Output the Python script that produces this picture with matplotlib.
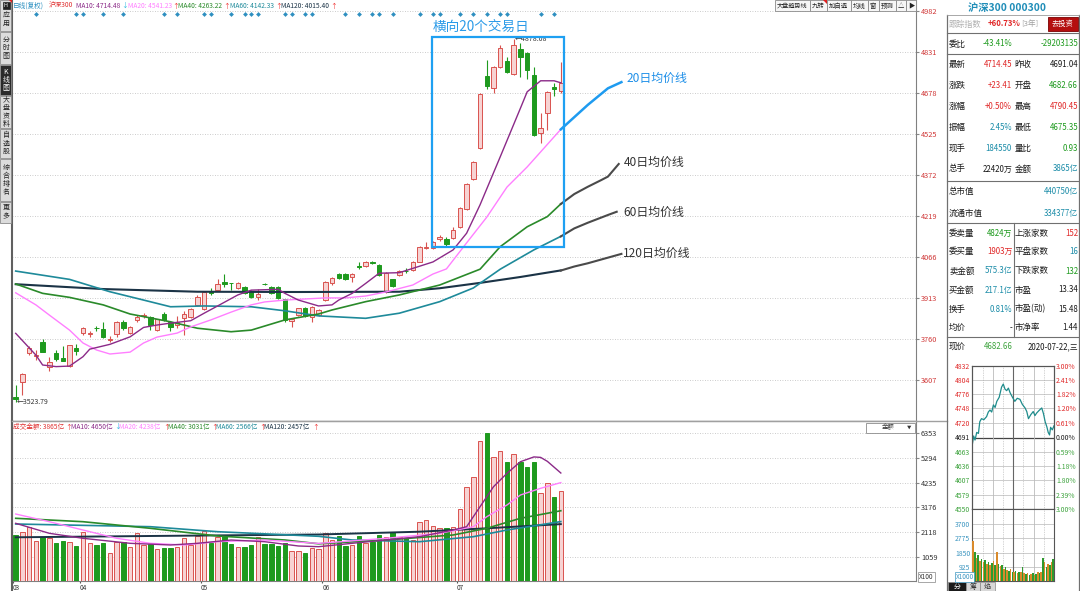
import numpy as np
import matplotlib.pyplot as plt
from matplotlib.patches import Rectangle, Polygon
from matplotlib.transforms import blended_transform_factory

plt.rcParams['font.family'] = ['Noto Sans CJK SC', 'DejaVu Sans']
plt.rcParams['axes.unicode_minus'] = False

# ---------------- 沪深300 日K 2020-03 ~ 2020-07-22 (从截图读出的近似值) ----------------
opens = [3544, 3600, 3708, 3696, 3750, 3657, 3709, 3688, 3659, 3725,
         3783, 3780, 3802, 3796, 3757, 3778, 3824, 3781, 3831, 3847,
         3841, 3793, 3853, 3824, 3812, 3837, 3841, 3887, 3871, 3940,
         3942, 3973, 3969, 3949, 3955, 3940, 3917, 3966, 3955, 3952,
         3908, 3827, 3849, 3874, 3841, 3849, 3905, 3967, 4002, 4001,
         3992, 4031, 4032, 4048, 4036, 3936, 3982, 3998, 4015, 4017,
         4048, 4100, 4098, 4131, 4131, 4135, 4176, 4243, 4355, 4470,
         4740, 4694, 4772, 4797, 4746, 4839, 4824, 4744, 4526, 4601,
         4697, 4682.66]
closes = [3536, 3629, 3726, 3699, 3713, 3675, 3684, 3679, 3736, 3716,
          3800, 3782, 3800, 3768, 3759, 3824, 3800, 3804, 3841, 3851,
          3812, 3833, 3831, 3804, 3824, 3853, 3871, 3915, 3936, 3930,
          3965, 3965, 3967, 3970, 3932, 3917, 3928, 3964, 3930, 3912,
          3831, 3833, 3874, 3846, 3880, 3868, 3973, 3986, 3986, 3983,
          4002, 4029, 4048, 4042, 3998, 4007, 3957, 4014, 4013, 4046,
          4102, 4103, 4122, 4141, 4114, 4166, 4249, 4337, 4420, 4673,
          4703, 4774, 4843, 4756, 4855, 4810, 4762, 4520, 4545, 4681,
          4691.04, 4714.45]
highs = [3588, 3632, 3734, 3719, 3760, 3694, 3719, 3734, 3738, 3741,
         3805, 3791, 3808, 3824, 3772, 3826, 3830, 3808, 3849, 3858,
         3845, 3836, 3862, 3828, 3846, 3865, 3874, 3924, 3940, 3950,
         3982, 4002, 3970, 3972, 3958, 3942, 3946, 3970, 3958, 3956,
         3910, 3835, 3877, 3878, 3883, 3871, 3976, 3992, 4006, 4005,
         4005, 4048, 4051, 4052, 4040, 4010, 3985, 4017, 4024, 4049,
         4105, 4122, 4125, 4147, 4141, 4176, 4252, 4340, 4424, 4676,
         4799, 4777, 4855, 4812, 4878.08, 4862, 4830, 4772, 4603, 4684,
         4713, 4790.45]
lows = [3523.79, 3551, 3700, 3682, 3711, 3642, 3679, 3677, 3657, 3700,
        3775, 3768, 3790, 3765, 3750, 3768, 3793, 3778, 3824, 3837,
        3793, 3790, 3828, 3791, 3800, 3775, 3838, 3884, 3868, 3924,
        3940, 3955, 3942, 3946, 3929, 3914, 3905, 3960, 3927, 3909,
        3822, 3804, 3846, 3843, 3824, 3846, 3902, 3961, 3982, 3980,
        3973, 4020, 4029, 4039, 3995, 3933, 3954, 3995, 4005, 4014,
        4045, 4094, 4095, 4126, 4104, 4132, 4173, 4240, 4352, 4467,
        4690, 4675, 4768, 4750, 4742, 4737, 4728, 4517, 4489, 4539,
        4665, 4675.35]
# 成交金额(亿)
amount = [1990, 2107, 2322, 1733, 1892, 1849, 1634, 1733, 1703, 1518,
          2107, 1634, 1561, 1634, 1230, 1703, 1703, 1488, 2064, 1548,
          1604, 1376, 1445, 1419, 1462, 1875, 1548, 1948, 2163, 1634,
          1892, 1978, 1591, 1462, 1462, 1561, 1892, 1604, 1591, 1518,
          1634, 1303, 1303, 1230, 1419, 1376, 2092, 1776, 1948, 1518,
          1561, 1948, 1634, 1703, 1991, 1892, 2133, 1892, 1849, 1776,
          2563, 2636, 2378, 2279, 2279, 2322, 3096, 4042, 4472, 6003,
          6350, 5358, 5573, 5143, 5474, 5143, 4902, 5143, 3784, 4214,
          3612, 3865]

# 均线 (读图取样点: K线序号, 数值)
ma10_x = [0, 3, 4, 6, 8, 10, 11, 14, 17, 19, 21, 23, 26, 28, 30, 33, 35, 39, 40, 42,
          45, 47, 48, 50, 52, 54, 57, 59, 62, 65, 67, 69, 72, 75, 76, 78, 80, 81]
ma10 = [3781, 3700, 3663, 3657, 3659, 3694, 3722, 3740, 3768, 3803, 3812, 3819, 3828, 3856,
        3883, 3924, 3942, 3945, 3930, 3905, 3883, 3887, 3905, 3930, 3967, 4005, 4007, 4023,
        4047, 4092, 4154, 4260, 4439, 4620, 4681, 4722, 4722, 4714.48]
ma20_x = [0, 3, 5, 8, 10, 12, 14, 17, 19, 21, 24, 26, 29, 32, 35, 37, 40, 43, 46, 49,
          52, 55, 59, 62, 64, 67, 70, 73, 76, 79, 81]
ma20 = [3932, 3887, 3849, 3793, 3745, 3719, 3704, 3711, 3745, 3767, 3782, 3805, 3831, 3860,
        3887, 3898, 3905, 3909, 3913, 3913, 3920, 3935, 3961, 4002, 4021, 4118, 4214, 4326,
        4401, 4485, 4541.23]
ma40_x = [0, 4, 8, 13, 17, 23, 27, 32, 35, 40, 45, 47, 52, 57, 63, 69, 72, 76, 79, 81]
ma40 = [3965, 3930, 3915, 3887, 3853, 3824, 3800, 3787, 3793, 3831, 3853, 3868, 3899, 3924,
        3961, 4020, 4104, 4178, 4216, 4263.22]
ma60_x = [0, 8, 14, 19, 23, 28, 35, 40, 45, 52, 57, 63, 68, 72, 77, 81]
ma60 = [4013, 3982, 3936, 3905, 3880, 3883, 3880, 3865, 3846, 3837, 3856, 3899, 3950, 4020,
        4092, 4142.33]
ma120_x = [0, 13, 27, 42, 57, 63, 69, 75, 81]
ma120 = [3964, 3946, 3936, 3935, 3936, 3949, 3969, 3991, 4015.40]

# 手绘的均线延长线
ext20_x, ext20 = [81, 85, 88, 90], [4541, 4632, 4694, 4717]
ext40_x, ext40 = [81, 83, 85, 87, 88, 89.6], [4263, 4300, 4327, 4352, 4365, 4412]
ext60_x, ext60 = [81, 83, 85, 88, 89.3], [4142, 4172, 4193, 4222, 4234]
ext120_x, ext120 = [81, 83, 85, 88, 90], [4015, 4030, 4042, 4063, 4077]

# 成交金额均线
vma10_x = [0, 5, 10, 17, 23, 27, 32, 37, 42, 45, 50, 55, 60, 65, 67, 69, 71, 73, 75, 77, 78, 79, 81]
vma10 = [2492, 2063, 1849, 1634, 1562, 1634, 1776, 1703, 1519, 1489, 1634, 1776, 1918, 2205,
         2347, 3205, 4063, 4637, 5135, 5340, 5320, 5150, 4650]
vma20_x = [0, 5, 10, 15, 20, 25, 30, 37, 45, 55, 63, 68, 70, 73, 75, 78, 81]
vma20 = [2891, 2561, 2205, 1849, 1634, 1562, 1703, 1776, 1630, 1849, 2063, 2347, 2776, 3278,
         3707, 3994, 4238]
vma40_x = [0, 10, 20, 30, 40, 45, 55, 65, 70, 75, 81]
vma40 = [2707, 2561, 2278, 1948, 1776, 1613, 1776, 1991, 2278, 2707, 3031]
vma60_x = [0, 20, 30, 45, 50, 60, 68, 73, 81]
vma60 = [2462, 2347, 2132, 1935, 1776, 1703, 1918, 2205, 2566]
vma120_x = [0, 20, 45, 60, 70, 81]
vma120 = [1892, 1948, 2012, 2132, 2278, 2457]

price_levels = [3607, 3760, 3913, 4066, 4219, 4372, 4525, 4678, 4831, 4982]
amount_levels = [1059, 2118, 3176, 4235, 5294, 6353]
month_pos = [0, 10, 28, 46, 66]
month_labels = ['03', '04', '05', '06', '07']
mine_idx = [3, 9, 10, 13, 16, 22, 24, 28, 29, 32, 34, 35, 36, 40, 41, 43, 44, 49, 51,
            53, 54, 56, 60, 62, 63, 66, 68, 70, 72, 73, 78, 80]

# 分时 (2020-07-22)
it_t = [0, 4, 8, 13, 18, 22, 27, 34, 42, 47, 52, 57, 62, 67, 72, 79, 86, 91, 96, 101, 106,
        111, 118, 125, 132, 140, 147, 155, 160, 165, 172, 179, 184, 189, 196, 204, 209, 214,
        219, 223, 227, 230, 235, 240]
it_p = [4677, 4694, 4686, 4701, 4699, 4722, 4728, 4726, 4732, 4741, 4745, 4741, 4755, 4750,
        4762, 4770, 4790, 4796, 4786, 4783, 4788, 4779, 4770, 4762, 4768, 4766, 4756, 4749,
        4742, 4728, 4736, 4742, 4734, 4739, 4744, 4749, 4738, 4722, 4712, 4701, 4696, 4711,
        4706, 4714]
it_levels = [4550, 4579, 4607, 4636, 4663, 4691, 4720, 4748, 4776, 4804, 4832]
it_pct = ['3.00%', '2.39%', '1.80%', '1.18%', '0.59%', '0.00%', '0.61%', '1.20%', '1.82%',
          '2.41%', '3.00%']
itv = [2600, 1900, 1500, 1700, 1300, 1400, 1200, 1350, 1100, 1250, 1000, 1150, 1300, 1050,
       1900, 1100, 950, 1000, 800, 900, 700, 650, 750, 600, 550, 650, 500, 550, 600, 900,
       500, 450, 500, 400, 450, 500, 400, 450, 550, 500, 600, 1500, 1200, 900, 1100, 1000,
       1200, 1400]
itv_levels = [925, 1850, 2775, 3700]

# 右侧盘口
names1 = ['最新', '涨跌', '涨幅', '振幅', '现手', '总手']
vals1 = ['4714.45', '+23.41', '+0.50%', '2.45%', '184550', '22420万']
names2 = ['昨收', '开盘', '最高', '最低', '量比', '金额']
vals2 = ['4691.04', '4682.66', '4790.45', '4675.35', '0.93', '3865亿']
names3 = ['委卖量', '委买量', '卖金额', '买金额', '换手', '均价']
vals3 = ['4824万', '1903万', '575.3亿', '217.1亿', '0.81%', '-']
names4 = ['上涨家数', '平盘家数', '下跌家数', '市盈', '市盈(动)', '市净率']
vals4 = ['152', '16', '132', '13.34', '15.48', '1.44']

# ---------------- 样式 ----------------
RED, GRN, TEAL, BLK = '#E02828', '#1E9A1E', '#1B8CA8', '#1A1A1A'
UP_E, UP_F = '#D9534F', '#F7D3D3'
C10, C20, C40, C60, C120 = '#8B2A88', '#FF7FFF', '#2A8A2A', '#1E8A9A', '#1B3346'
W, H = 1080, 591
X0, DX = 15.7, 6.73           # 第一根K线的像素位置, K线间距
PY0, PK = 5023, 3.726         # 价格轴: y像素0处的价格, 每像素价格
VK = 42.9                     # 成交额轴: 每像素金额

fig = plt.figure(figsize=(W / 100, H / 100), dpi=100)


def box(x0, y0, x1, y1):
    return fig.add_axes([x0 / W, 1 - y1 / H, (x1 - x0) / W, (y1 - y0) / H])


def px2idx(px):
    return (px - X0) / DX


o, c = np.array(opens), np.array(closes)
xi = np.arange(len(c))
up = c >= o
face = np.where(up, UP_F, GRN)
edge = np.where(up, UP_E, GRN)

# ---------------- 主图 K线 ----------------
ax = box(12, 0, 916, 421)
ax.set_xlim(px2idx(12), px2idx(916))
ax.set_ylim(PY0 - PK * 421, PY0)
ax.vlines(xi, lows, highs, colors=edge, lw=0.8, zorder=2)
ax.bar(xi, np.maximum(np.abs(c - o), 1.5), bottom=np.minimum(o, c), width=0.66,
       color=face, edgecolor=edge, linewidth=0.7, zorder=3)
ax.plot(ma120_x, ma120, color=C120, lw=1.5, zorder=4)
ax.plot(ma60_x, ma60, color=C60, lw=1.2, zorder=4)
ax.plot(ma40_x, ma40, color=C40, lw=1.2, zorder=4)
ax.plot(ma20_x, ma20, color=C20, lw=1.0, zorder=4)
ax.plot(ma10_x, ma10, color=C10, lw=1.0, zorder=4)

ax.plot(ext20_x, ext20, color='#1E9BF0', lw=1.8, zorder=5)
for ex, ey in [(ext40_x, ext40), (ext60_x, ext60), (ext120_x, ext120)]:
    ax.plot(ex, ey, color='#4A4A4A', lw=1.5, zorder=5)
ax.text(90.7, 4732, '20日均价线', color='#1E8FE8', fontsize=8.6, va='center')
ax.text(90.3, 4419, '40日均价线', color='#333333', fontsize=8.6, va='center')
ax.text(90.3, 4233, '60日均价线', color='#333333', fontsize=8.6, va='center')
ax.text(90.2, 4080, '120日均价线', color='#333333', fontsize=8.6, va='center')

ax.add_patch(Rectangle((61.9, 4103), 81.45 - 61.9, 4885 - 4103, fill=False,
                       ec='#1EA0F2', lw=1.6, zorder=6))
ax.text(62.0, 4922, '横向20个交易日', color='#2C9BE8', fontsize=9.8, va='center')

ax.text(0.15, lows[0], '←' + f'{lows[0]:.2f}', fontsize=5, color='#333', va='center')
i_hi = int(np.argmax(highs))
ax.text(i_hi + 0.15, highs[i_hi], '←' + f'{highs[i_hi]:.2f}', fontsize=5, color='#333',
        va='center')

tr = blended_transform_factory(ax.transData, ax.transAxes)
ax.scatter(mine_idx, [1 - 14 / 421] * len(mine_idx), transform=tr, marker='D', s=6,
           color='#2E8FC0', zorder=6, linewidths=0)

ax.set_yticks(price_levels)
ax.yaxis.tick_right()
ax.tick_params(axis='y', labelsize=5.3, labelcolor='#D03838', length=2, color='#888',
               pad=1.5)
ax.set_xticks([])
ax.grid(axis='y', ls=(0, (1, 2)), color='#BBBBBB', lw=0.6)
ax.spines['top'].set_visible(False)
ax.spines['left'].set_color('#606060')
ax.spines['left'].set_linewidth(1.5)
ax.spines['right'].set_color('#808080')
ax.spines['right'].set_linewidth(0.8)
ax.spines['bottom'].set_color('#A0A0A0')
ax.spines['bottom'].set_linewidth(1.0)

# ---------------- 成交金额 ----------------
vx = box(12, 421, 916, 581.4)
vx.set_xlim(px2idx(12), px2idx(916))
vx.set_ylim(0, VK * (581.4 - 421))
vx.bar(xi, amount, width=0.66, color=face, edgecolor=edge, linewidth=0.7, zorder=3)
vx.plot(vma120_x, vma120, color=C120, lw=1.4, zorder=4)
vx.plot(vma60_x, vma60, color=C60, lw=1.2, zorder=4)
vx.plot(vma40_x, vma40, color=C40, lw=1.2, zorder=4)
vx.plot(vma20_x, vma20, color=C20, lw=1.0, zorder=4)
vx.plot(vma10_x, vma10, color=C10, lw=1.0, zorder=4)
vx.set_yticks(amount_levels)
vx.yaxis.tick_right()
vx.tick_params(axis='y', labelsize=5.3, labelcolor='#333', length=2, color='#888', pad=1.5)
vx.set_xticks(np.array(month_pos) - 0.45)
vx.set_xticklabels(month_labels)
for lab in vx.get_xticklabels():
    lab.set_ha('left')
vx.tick_params(axis='x', labelsize=4.6, labelcolor='#333', length=1.5, color='#555', pad=0.2)
vx.grid(axis='y', ls=(0, (1, 2)), color='#BBBBBB', lw=0.6)
vx.spines['top'].set_color('#A0A0A0')
vx.spines['left'].set_color('#606060')
vx.spines['left'].set_linewidth(1.5)
vx.spines['right'].set_color('#808080')
vx.spines['right'].set_linewidth(0.8)
vx.spines['bottom'].set_color('#808080')

# ---------------- 分时小图 ----------------
ia = box(972.3, 365.7, 1054, 509.3)
ia.set_xlim(0, 240)
ia.set_ylim(it_levels[0], it_levels[-1])
for v in it_levels:
    ia.axhline(v, color='#444' if v == 4691 else '#C4C4C4', lw=0.9 if v == 4691 else 0.6)
for t in [30, 90, 150, 210]:
    ia.axvline(t, color='#AAAAAA', lw=0.5, ls=(0, (1, 1.5)))
for t in [60, 180]:
    ia.axvline(t, color='#BBBBBB', lw=0.6)
ia.axvline(120, color='#666', lw=0.8)
ia.plot(it_t, it_p, color='#1F8C8C', lw=0.9)
ia.set_xticks([])
ia.set_yticks(it_levels)
ia.set_yticklabels([str(v) for v in it_levels])
ia.tick_params(axis='y', length=0, labelsize=4.9, pad=1.5)
for lab, v in zip(ia.get_yticklabels(), it_levels):
    lab.set_color(RED if v > 4691 else (BLK if v == 4691 else '#3DA33D'))
ir = ia.twinx()
ir.set_ylim(ia.get_ylim())
ir.set_yticks(it_levels)
ir.set_yticklabels(it_pct)
ir.tick_params(axis='y', length=0, labelsize=4.9, pad=1.5)
for lab, v in zip(ir.get_yticklabels(), it_levels):
    lab.set_color(RED if v > 4691 else (BLK if v == 4691 else '#3DA33D'))
for a in (ia, ir):
    for s in a.spines.values():
        s.set_color('#555')
        s.set_linewidth(0.8)

iv = box(972.3, 509.3, 1054, 580.7)
iv.set_xlim(0, 240)
iv.set_ylim(0, 925 * (580.7 - 509.3) / 14.1)
for v in itv_levels:
    iv.axhline(v, color='#C4C4C4', lw=0.6)
for t in [30, 90, 150, 210]:
    iv.axvline(t, color='#AAAAAA', lw=0.5, ls=(0, (1, 1.5)))
for t in [60, 180]:
    iv.axvline(t, color='#BBBBBB', lw=0.6)
iv.axvline(120, color='#666', lw=0.8)
itv_t = np.arange(len(itv)) * 5 + 2.5
iv.bar(itv_t, itv, width=4.6, color=['#D98A2B' if k % 2 == 0 else '#2E9A2E'
                                       for k in range(len(itv))], zorder=3)
iv.set_xticks([])
iv.set_yticks(itv_levels)
iv.tick_params(axis='y', length=0, labelsize=4.9, labelcolor='#3B95C0', pad=1.5)
for s in iv.spines.values():
    s.set_color('#555')
    s.set_linewidth(0.8)

# ---------------- 界面文字与框线 (像素坐标) ----------------
ov = fig.add_axes([0, 0, 1, 1], zorder=10)
ov.set_xlim(0, W)
ov.set_ylim(H, 0)
ov.axis('off')

# 左侧功能条
side_labels = ['应用', '分时图', 'K线图', '大盘资料', '自选股', '综合排名', '更多']
side_spans = [(0, 31), (32, 64), (65, 95), (96, 128), (129, 158), (159, 201), (202, 223)]
for (y0, y1), lab in zip(side_spans, side_labels):
    sel = lab == 'K线图'
    ov.add_patch(Rectangle((0.3, y0), 11, y1 - y0, fc='#2A2A2A' if sel else '#DCDCDC',
                           ec='#8A8A8A', lw=0.6))
    yc = (y0 + y1) / 2 + (4 if lab == '应用' else 0)
    ov.text(6, yc, '\n'.join(lab), ha='center', va='center', fontsize=5,
            color='white' if sel else '#222', linespacing=1.05)
ov.add_patch(Rectangle((2.5, 2), 7, 7, fc='#222', ec='#222', lw=0.5))
ov.text(6, 5.5, 'H', color='white', fontsize=4, ha='center', va='center')
ov.add_patch(Polygon([(8.5, 0), (11.5, 0), (11.5, 3)], fc='#E02020', ec='none'))
ov.plot([12.3, 12.3], [421, 591], color='#606060', lw=1.5)

# 主图标题行
hdr = [(12.7, '日线(复权)', '#2A8FC0'), (48.3, '沪深300', '#E03030'),
       (76, 'MA10: 4714.48', C10), (127.7, 'MA20: 4541.23', C20),
       (178.3, 'MA40: 4263.22', C40), (230, 'MA60: 4142.33', C60),
       (280.7, 'MA120: 4015.40', C120)]
for xx, s, col in hdr:
    ov.text(xx, 5.6, s, color=col, fontsize=4.8, va='center')
for xx, s in [(121.5, '↓'), (172.5, '↑'), (223.5, '↑'), (275, '↑'), (330, '↑')]:
    ov.text(xx, 5.6, s, color='#2EB8E0' if s == '↓' else '#F03030', fontsize=4.8,
            va='center')

vhdr = [(13.3, '成交金额: 3865亿', '#E03030'), (70.7, 'MA10: 4650亿', C10),
        (119.3, 'MA20: 4238亿', C20), (167.7, 'MA40: 3031亿', C40),
        (216, 'MA60: 2566亿', C60), (264.3, 'MA120: 2457亿', C120)]
for xx, s, col in vhdr:
    ov.text(xx, 427.3, s, color=col, fontsize=4.8, va='center')
for xx, s in [(65.5, '↑'), (114, '↓'), (163, '↑'), (211.3, '↑'), (259.5, '↑'), (312.5, '↑')]:
    ov.text(xx, 427.3, s, color='#2EB8E0' if s == '↓' else '#F03030', fontsize=4.8,
            va='center')

# 工具按钮
tools = [('大盘趋势线', 774.5, 809.5), ('九转', 809.5, 826.5), ('加自选', 826.5, 850.5),
         ('均线', 850.5, 867.5), ('窗', 867.5, 878.5), ('预测', 878.5, 895.5),
         ('△', 895.5, 906), ('▶', 906, 916)]
for s, x0, x1 in tools:
    ov.add_patch(Rectangle((x0, 0.3), x1 - x0, 11, fc='#F6F6F6', ec='#8A8A8A', lw=0.6))
    ov.text((x0 + x1) / 2, 6, s, fontsize=4.6 if len(s) < 5 else 4.4, ha='center',
            va='center', color='#222')
ov.add_patch(Polygon([(822.5, 0.3), (826.5, 0.3), (826.5, 4.3)], fc='#E02020', ec='none'))

# 金额下拉框 / X100
ov.add_patch(Rectangle((866, 422.5), 49, 10, fc='white', ec='#8A8A8A', lw=0.6))
ov.text(888, 427.5, '金额', fontsize=4.6, ha='center', va='center', color='#333')
ov.text(909, 427.5, '▼', fontsize=3.2, ha='center', va='center', color='#333')
ov.text(926.5, 577, 'X100', fontsize=4.6, ha='center', va='center', color='#333',
        bbox=dict(boxstyle='square,pad=0.15', fc='white', ec='#999', lw=0.6))
ov.plot([12, 947], [421, 421], color='#A0A0A0', lw=1.0)

# 右侧面板
ov.plot([947.3, 947.3], [15, 591], color='#707070', lw=0.9)
ov.plot([1079, 1079], [15, 591], color='#707070', lw=0.9)
ov.text(1007, 7.5, '沪深300 000300', ha='center', va='center', fontsize=7.4,
        color='#1F8DB8', weight='bold')
ov.plot([947.3, 1079], [15, 15], color='#9A9A9A', lw=0.6)
ov.text(949, 24, '跟踪指数', fontsize=5.9, color='#B0B0B0', va='center')
ov.text(988, 24, '+60.73%', fontsize=5.6, color=RED, va='center', weight='bold')
ov.text(1021.5, 24, '[3年]', fontsize=5.6, color='#A0A0A0', va='center')
ov.add_patch(Rectangle((1048, 16.5), 29.5, 14.5, fc='#B40F0F', ec='#7A0000', lw=0.6))
ov.text(1062.7, 24, '去投资', fontsize=5.2, color='white', ha='center', va='center')

for yy in [33.3, 54, 180.7, 222.7, 337.3]:
    ov.plot([947.3, 1079], [yy, yy], color='#707070', lw=0.8)
ov.plot([1014, 1014], [222.7, 337.3], color='#707070', lw=0.8)

FS_L, FS_V = 6.1, 5.7
ov.text(949, 44, '委比', fontsize=FS_L, color=BLK, va='center')
ov.text(1012, 44, '-43.41%', fontsize=FS_V, color=GRN, va='center', ha='right')
ov.text(1078, 44, '-29203135', fontsize=FS_V, color=GRN, va='center', ha='right')

rows_y1 = [64.3, 85.7, 106.7, 127.7, 148.3, 169]
col1 = [RED, RED, RED, TEAL, TEAL, BLK]
col2 = [BLK, GRN, RED, GRN, GRN, TEAL]
for yy, n1, v1, k1, n2, v2, k2 in zip(rows_y1, names1, vals1, col1, names2, vals2, col2):
    ov.text(949, yy, n1, fontsize=FS_L, color=BLK, va='center')
    ov.text(1012, yy, v1, fontsize=FS_V, color=k1, va='center', ha='right')
    ov.text(1014.5, yy, n2, fontsize=FS_L, color=BLK, va='center')
    ov.text(1078, yy, v2, fontsize=FS_V, color=k2, va='center', ha='right')

ov.text(949, 191.7, '总市值', fontsize=FS_L, color=BLK, va='center')
ov.text(1078, 191.7, '440750亿', fontsize=FS_V, color=TEAL, va='center', ha='right')
ov.text(949, 213.3, '流通市值', fontsize=FS_L, color=BLK, va='center')
ov.text(1078, 213.3, '334377亿', fontsize=FS_V, color=TEAL, va='center', ha='right')

rows_y3 = [233.3, 251.7, 271, 290, 309, 327.7]
col3 = [GRN, RED, TEAL, TEAL, TEAL, BLK]
col4 = [RED, TEAL, GRN, BLK, BLK, BLK]
for yy, n1, v1, k1, n2, v2, k2 in zip(rows_y3, names3, vals3, col3, names4, vals4, col4):
    ov.text(949, yy, n1, fontsize=FS_L, color=BLK, va='center')
    ov.text(1012.5, yy, v1, fontsize=FS_V, color=k1, va='center', ha='right')
    ov.text(1015, yy, n2, fontsize=FS_L, color=BLK, va='center')
    ov.text(1078, yy, v2, fontsize=FS_V, color=k2, va='center', ha='right')

ov.text(949, 346.7, '现价', fontsize=FS_L, color=BLK, va='center')
ov.text(1013, 346.7, '4682.66', fontsize=FS_V, color='#3DA33D', va='center', ha='right')
ov.text(1078, 346.7, '2020-07-22,三', fontsize=FS_V, color=BLK, va='center', ha='right')

ov.text(964.5, 576.8, 'X1000', fontsize=4.6, ha='center', va='center', color='#3B95C0',
        bbox=dict(boxstyle='square,pad=0.12', fc='white', ec='#3B95C0', lw=0.5))

# 底部标签页
for s, x0, x1, sel in [('分', 948, 966, True), ('筹', 966, 980, False), ('焰', 980, 995, False)]:
    ov.add_patch(Rectangle((x0, 582), x1 - x0, 9, fc='#1A1A1A' if sel else '#D8D8D8',
                           ec='#888', lw=0.5))
    ov.text((x0 + x1) / 2, 586.8, s, fontsize=5, ha='center', va='center',
            color='white' if sel else '#333')

fig.savefig('out.png', dpi=100, facecolor='white')
